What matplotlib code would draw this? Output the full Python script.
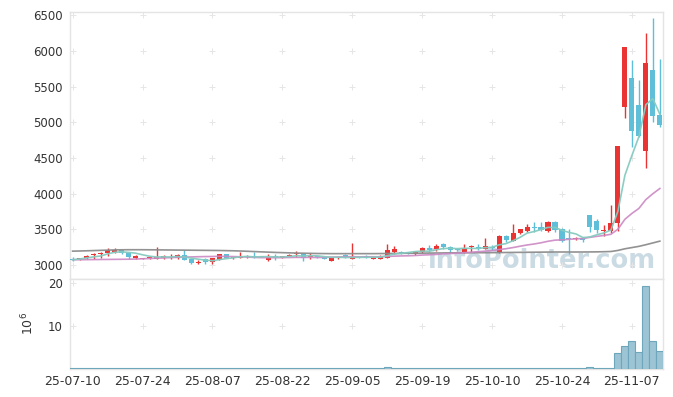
import matplotlib
matplotlib.use("Agg")
import matplotlib.pyplot as plt
import numpy as np

# ---------------- data ----------------
opens = [3080, 3080, 3105, 3145, 3155, 3175, 3185, 3205, 3170, 3105,
         3085, 3095, 3085, 3095, 3100, 3100, 3135, 3080, 3035, 3085,
         3040, 3070, 3150, 3095, 3100, 3110, 3125, 3125, 3070, 3125,
         3100, 3130, 3150, 3160, 3110, 3125, 3115, 3060, 3095, 3145,
         3090, 3110, 3120, 3090, 3090, 3105, 3185, 3190, 3175, 3155,
         3190, 3235, 3220, 3295, 3257, 3225, 3180, 3250, 3255, 3230,
         3255, 3180, 3405, 3340, 3445, 3480, 3525, 3537, 3480, 3600,
         3510, 3375, 3360, 3385, 3700, 3615, 3475, 3480, 3585, 5210,
         5620, 5240, 4600, 5730, 5100]
highs = [3110, 3105, 3140, 3165, 3180, 3235, 3235, 3215, 3175, 3135,
         3105, 3130, 3250, 3140, 3150, 3150, 3210, 3090, 3075, 3100,
         3105, 3155, 3160, 3120, 3190, 3135, 3190, 3130, 3160, 3160,
         3130, 3155, 3195, 3165, 3170, 3130, 3120, 3120, 3110, 3150,
         3305, 3115, 3135, 3120, 3135, 3300, 3265, 3200, 3190, 3195,
         3250, 3275, 3295, 3305, 3270, 3245, 3290, 3285, 3290, 3380,
         3280, 3420, 3425, 3575, 3510, 3575, 3610, 3610, 3620, 3615,
         3515, 3500, 3390, 3400, 3705, 3640, 3555, 3845, 4670, 6055,
         5870, 5590, 6245, 6455, 5880]
lows = [3060, 3075, 3090, 3080, 3095, 3125, 3165, 3150, 3090, 3090,
        3080, 3090, 3080, 3080, 3080, 3080, 3065, 3010, 3015, 3015,
        3020, 3065, 3095, 3085, 3095, 3100, 3100, 3110, 3060, 3070,
        3095, 3125, 3110, 3060, 3080, 3105, 3085, 3055, 3090, 3105,
        3085, 3100, 3100, 3085, 3085, 3095, 3155, 3160, 3150, 3145,
        3175, 3180, 3200, 3230, 3180, 3200, 3175, 3180, 3215, 3220,
        3215, 3175, 3325, 3335, 3440, 3470, 3470, 3475, 3470, 3465,
        3320, 3155, 3355, 3330, 3465, 3450, 3405, 3445, 3480, 5055,
        4655, 4800, 4355, 5005, 4935]
closes = [3070, 3100, 3130, 3160, 3175, 3215, 3215, 3165, 3115, 3125,
          3100, 3115, 3110, 3125, 3115, 3140, 3070, 3035, 3050, 3050,
          3100, 3150, 3100, 3110, 3120, 3125, 3115, 3115, 3115, 3100,
          3125, 3145, 3165, 3100, 3125, 3110, 3090, 3115, 3105, 3110,
          3110, 3105, 3110, 3115, 3115, 3210, 3220, 3165, 3170, 3180,
          3245, 3210, 3265, 3257, 3205, 3215, 3235, 3260, 3245, 3265,
          3240, 3405, 3350, 3445, 3500, 3535, 3515, 3490, 3600, 3490,
          3340, 3365, 3385, 3345, 3535, 3495, 3490, 3585, 4665, 6050,
          4880, 4805, 5830, 5085, 4960]
ma5 = [3075, 3085, 3100, 3115, 3127, 3156, 3179, 3186, 3177, 3167,
       3144, 3124, 3113, 3115, 3113, 3121, 3112, 3097, 3082, 3069,
       3061, 3077, 3090, 3102, 3116, 3121, 3114, 3117, 3118, 3114,
       3114, 3120, 3130, 3127, 3132, 3129, 3118, 3108, 3109, 3106,
       3106, 3109, 3108, 3110, 3111, 3131, 3154, 3165, 3176, 3189,
       3196, 3194, 3214, 3231, 3236, 3230, 3235, 3234, 3232, 3244,
       3249, 3283, 3301, 3341, 3388, 3447, 3469, 3497, 3528, 3526,
       3487, 3457, 3436, 3385, 3394, 3425, 3450, 3490, 3754, 4257,
       4534, 4797, 5246, 5330, 5112]
ma20 = [3075, 3075, 3076, 3077, 3078, 3079, 3080, 3081, 3082, 3084,
        3088, 3092, 3096, 3100, 3104, 3108, 3111, 3114, 3117, 3119,
        3120, 3123, 3121, 3119, 3116, 3112, 3107, 3104, 3104, 3103,
        3104, 3106, 3108, 3107, 3108, 3106, 3107, 3111, 3114, 3117,
        3117, 3115, 3116, 3116, 3116, 3120, 3125, 3128, 3130, 3134,
        3140, 3144, 3149, 3157, 3161, 3166, 3173, 3180, 3187, 3195,
        3202, 3217, 3229, 3245, 3264, 3281, 3295, 3312, 3333, 3349,
        3353, 3361, 3367, 3371, 3388, 3402, 3415, 3431, 3502, 3641,
        3723, 3793, 3917, 3999, 4072]
ma60 = [3195, 3197, 3200, 3203, 3206, 3209, 3212, 3214, 3215, 3215,
        3215, 3214, 3213, 3212, 3211, 3210, 3209, 3208, 3207, 3206,
        3205, 3204, 3202, 3200, 3197, 3193, 3189, 3185, 3181, 3177,
        3174, 3171, 3168, 3166, 3164, 3162, 3161, 3160, 3160, 3160,
        3160, 3160, 3160, 3160, 3161, 3162, 3163, 3164, 3165, 3166,
        3167, 3168, 3169, 3170, 3171, 3171, 3172, 3172, 3173, 3173,
        3174, 3175, 3176, 3177, 3178, 3179, 3180, 3181, 3182, 3183,
        3183, 3183, 3183, 3183, 3184, 3185, 3187, 3190, 3205, 3228,
        3245, 3262, 3285, 3310, 3335]
volume_m = [0.05, 0.04, 0.06, 0.05, 0.04, 0.07, 0.05, 0.04, 0.05, 0.03,
            0.03, 0.03, 0.08, 0.04, 0.03, 0.04, 0.06, 0.05, 0.03, 0.04,
            0.05, 0.06, 0.04, 0.03, 0.05, 0.03, 0.04, 0.02, 0.04, 0.04,
            0.03, 0.04, 0.05, 0.05, 0.04, 0.03, 0.03, 0.04, 0.02, 0.03,
            0.09, 0.03, 0.03, 0.03, 0.03, 0.28, 0.10, 0.06, 0.04, 0.05,
            0.08, 0.06, 0.07, 0.07, 0.05, 0.04, 0.06, 0.05, 0.04, 0.09,
            0.05, 0.15, 0.10, 0.14, 0.09, 0.08, 0.08, 0.07, 0.10, 0.09,
            0.12, 0.11, 0.05, 0.06, 0.30, 0.12, 0.09, 0.15, 3.65, 5.3,
            6.5, 3.9, 19.3, 6.5, 4.1]
date_ticks = ["25-07-10", "25-07-24", "25-08-07", "25-08-22", "25-09-05",
              "25-09-19", "25-10-10", "25-10-24", "25-11-07"]
price_ticks = [3000, 3500, 4000, 4500, 5000, 5500, 6000, 6500]
volume_ticks = [10, 20]

# ---------------- styling ----------------
UP = "#ea3434"
DOWN = "#5fbfd8"
SPINE = "#e4e4e4"
TXT = "#333333"
GRIDC = "#e6e6e6"

W, H = 673, 397
fig = plt.figure(figsize=(W / 100, H / 100), dpi=100)
L, R = 69.5, 663.0
ax = fig.add_axes([L / W, 1 - 279 / H, (R - L) / W, (279 - 11.5) / H])
axv = fig.add_axes([L / W, 1 - 368.5 / H, (R - L) / W, (368.5 - 279) / H])

n = len(closes)
x = np.arange(n)
o = np.array(opens, float)
c = np.array(closes, float)
hi = np.array(highs, float)
lo = np.array(lows, float)
up = c >= o
cols = [UP if u else DOWN for u in up]

bottoms = np.minimum(o, c)
heights = np.maximum(np.abs(c - o), 14)
ax.vlines(x, lo, hi, colors=cols, linewidth=1.0, zorder=2)
ax.bar(x, heights, bottom=bottoms, width=0.72, color=cols, linewidth=0, zorder=3)

ax.plot(x, ma60, color="#8c8c8c", lw=1.2, alpha=0.95, zorder=4)
ax.plot(x, ma20, color="#cc88c4", lw=1.2, alpha=0.9, zorder=4)
ax.plot(x, ma5, color="#86cbc0", lw=1.2, alpha=0.95, zorder=4)

xt = list(range(0, 10 * len(date_ticks), 10))

ax.set_xlim(-0.45, n - 0.55)
ax.set_ylim(2805, 6550)
ax.set_yticks(price_ticks)
ax.set_xticks(xt)
ax.set_xticklabels([])
ax.tick_params(axis="both", length=0, labelsize=8.5, labelcolor=TXT, pad=5)

# cross-shaped grid marks
gx, gy = np.meshgrid(xt, price_ticks)
ax.scatter(gx.ravel(), gy.ravel(), marker="+", s=16, color=GRIDC, linewidths=0.7, zorder=1)

ax.text(0.988, 0.018, "infoPointer.com", transform=ax.transAxes, ha="right", va="bottom",
        fontsize=18.5, fontweight="bold", color="#c6d7e2", alpha=0.9, zorder=0.5)

# volume panel
axv.bar(x, volume_m, width=1.0, color="#9cc4d4", edgecolor="#6ea6bb", linewidth=0.8, zorder=3)
axv.set_xlim(ax.get_xlim())
axv.set_ylim(0, 21)
axv.set_yticks(volume_ticks)
axv.set_xticks(xt)
axv.set_xticklabels(date_ticks)
axv.tick_params(axis="both", length=0, labelsize=8.5, labelcolor=TXT, pad=5)
axv.tick_params(axis="x", labelsize=9, pad=5)
vgx, vgy = np.meshgrid(xt, volume_ticks)
axv.scatter(vgx.ravel(), vgy.ravel(), marker="+", s=16, color=GRIDC, linewidths=0.7, zorder=1)
axv.set_ylabel("10$^6$", fontsize=9, color=TXT, labelpad=8)

for a in (ax, axv):
    for s in a.spines.values():
        s.set_color(SPINE)
        s.set_linewidth(1.0)

fig.savefig("out.png", dpi=100)
